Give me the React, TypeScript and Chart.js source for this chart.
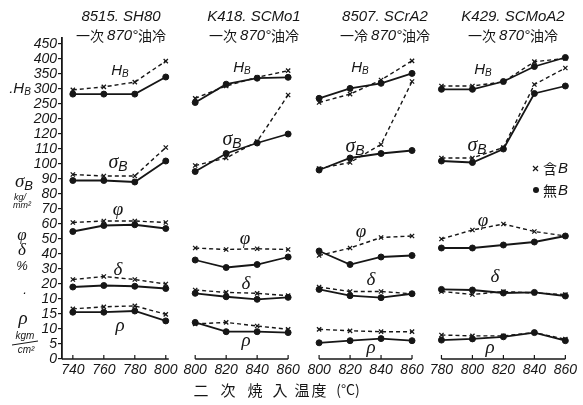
import { useEffect, useRef } from "react";
import { Chart, registerables } from "chart.js";
Chart.register(...registerables);

// ---- categories (quench temperatures, °C) ----
const temps1 = [740, 760, 780, 800];
const temps2 = [800, 820, 840, 860];
const temps3 = [800, 820, 840, 860];
const temps4 = [780, 800, 820, 840, 860];

// ---- panel titles ----
const steelNames = ["8515. SH80", "K418. SCMo1", "8507. SCrA2", "K429. SCMoA2"];
const firstQuench = ["一次", "一次", "一冷", "一次"];

// ---- y tick labels (composite axis, bottom to top) ----
const yTickLabels = ["0", "5", "10", "15", "10", "20", "30", "40", "50", "60", "70", "80", "90", "100", "110", "120", "200", "250", "300", "350", "400", "450"];

// ---- HB (Brinell hardness) ----
const hbWithB1 = [297, 307, 323, 393];
const hbNoB1 = [283, 283, 283, 340];
const hbWithB2 = [269, 310, 339, 361];
const hbNoB2 = [255, 316, 336, 339];
const hbWithB3 = [255, 283, 330, 394];
const hbNoB3 = [269, 302, 319, 352];
const hbWithB4 = [310, 310, 324, 391, 402];
const hbNoB4 = [299, 299, 325, 375, 405];

// ---- σB (kg/mm²) ----
const sbWithB1 = [93, 92, 92, 111];
const sbNoB1 = [89, 89, 88, 102];
const sbWithB2 = [99, 104, 115, 146];
const sbNoB2 = [95, 107, 114, 120];
const sbWithB3 = [97, 101, 113, 155];
const sbNoB3 = [96, 104, 107, 109];
const sbWithB4 = [104, 104, 111, 153, 164];
const sbNoB4 = [102, 101, 110, 147, 152];

// ---- φ (%) ----
const phiWithB1 = [61, 62, 62, 61];
const phiNoB1 = [55, 59, 59.5, 57];
const phiWithB2 = [44, 43, 43.5, 43];
const phiNoB2 = [36, 31, 33, 38];
const phiWithB3 = [39, 44, 51, 52];
const phiNoB3 = [42, 33, 38, 39];
const phiWithB4 = [50, 56, 60, 55, 52];
const phiNoB4 = [44, 44, 46, 48, 52];

// ---- δ (%) ----
const deltaWithB1 = [23, 25, 23, 20];
const deltaNoB1 = [18, 19, 18.5, 17];
const deltaWithB2 = [16, 14.4, 13.8, 12.2];
const deltaNoB2 = [13.8, 11.5, 9.8, 11.1];
const deltaWithB3 = [18, 15, 15, 13.5];
const deltaNoB3 = [16.4, 12.2, 10.9, 13.5];
const deltaWithB4 = [15, 13, 15, 14, 13];
const deltaNoB4 = [16.4, 16, 14, 14.4, 12];

// ---- ρ (kgm/cm²) ----
const rhoWithB1 = [16.7, 17.4, 17.7, 14.9];
const rhoNoB1 = [15.6, 15.6, 16, 12.7];
const rhoWithB2 = [11.7, 12.2, 11, 9.9];
const rhoNoB2 = [12.2, 9.1, 9.1, 8.8];
const rhoWithB3 = [9.9, 9.4, 9.1, 9.1];
const rhoNoB3 = [5.4, 6.1, 6.8, 6.1];
const rhoWithB4 = [8, 7.7, 7.7, 8.8, 6.6];
const rhoNoB4 = [6.3, 6.7, 7.4, 8.8, 6.1];

// composite axis converters (value -> axis index)
const hbIdx = (v: number) => 16 + (v - 200) / 50;
const pctIdx = (v: number) => 3 + v / 10;
const rhoIdx = (v: number) => v / 5;

const panels = [
  { temps: temps1, start: 740, offset: 0, series: [[hbWithB1, hbNoB1, hbIdx], [sbWithB1, sbNoB1, pctIdx], [phiWithB1, phiNoB1, pctIdx], [deltaWithB1, deltaNoB1, pctIdx], [rhoWithB1, rhoNoB1, rhoIdx]] },
  { temps: temps2, start: 800, offset: 79, series: [[hbWithB2, hbNoB2, hbIdx], [sbWithB2, sbNoB2, pctIdx], [phiWithB2, phiNoB2, pctIdx], [deltaWithB2, deltaNoB2, pctIdx], [rhoWithB2, rhoNoB2, rhoIdx]] },
  { temps: temps3, start: 800, offset: 159, series: [[hbWithB3, hbNoB3, hbIdx], [sbWithB3, sbNoB3, pctIdx], [phiWithB3, phiNoB3, pctIdx], [deltaWithB3, deltaNoB3, pctIdx], [rhoWithB3, rhoNoB3, rhoIdx]] },
  { temps: temps4, start: 780, offset: 238, series: [[hbWithB4, hbNoB4, hbIdx], [sbWithB4, sbNoB4, pctIdx], [phiWithB4, phiNoB4, pctIdx], [deltaWithB4, deltaNoB4, pctIdx], [rhoWithB4, rhoNoB4, rhoIdx]] },
];

const xTickValues: number[] = [];
const xTickLabels: string[] = [];
panels.forEach((p) => p.temps.forEach((t) => { xTickValues.push(p.offset + t - p.start); xTickLabels.push(String(t)); }));

const INK = "#161616";
const NUM = "'Liberation Sans', 'DejaVu Sans', sans-serif";
const CJK = "'Noto Sans CJK JP', 'Noto Sans CJK SC', sans-serif";
const GREEK = "'Liberation Serif', 'DejaVu Serif', serif";

function drawRuns(ctx: any, runs: [string, string][], cx: number, cy: number) {
  const widths = runs.map(([t, f]) => { ctx.font = f; return ctx.measureText(t).width; });
  let x = cx - widths.reduce((a, b) => a + b, 0) / 2;
  ctx.textAlign = "left";
  ctx.textBaseline = "middle";
  runs.forEach(([t, f], i) => { ctx.font = f; ctx.fillText(t, x, cy); x += widths[i]; });
}

function drawSub(ctx: any, main: string, sub: string, cx: number, cy: number, font: string, size: number, subFont?: string) {
  const mf = `italic ${size}px ${font}`;
  const sf = `italic ${Math.round(size * 0.68)}px ${subFont || NUM}`;
  ctx.font = mf; const w1 = ctx.measureText(main).width;
  ctx.font = sf; const w2 = ctx.measureText(sub).width;
  let x = cx - (w1 + w2) / 2;
  ctx.textAlign = "left"; ctx.textBaseline = "middle";
  ctx.font = mf; ctx.fillText(main, x, cy);
  ctx.font = sf; ctx.fillText(sub, x + w1, cy + size * 0.22);
}

const decorPlugin = {
  id: "decor",
  afterDraw(chart: any) {
    const ctx = chart.ctx;
    const xs = chart.scales.x;
    const area = chart.chartArea;
    ctx.save();
    ctx.fillStyle = INK;
    ctx.strokeStyle = INK;

    // x axes per panel
    const by = area.bottom;
    panels.forEach((p, pi) => {
      const xa = p.temps.map((t) => xs.getPixelForValue(p.offset + t - p.start));
      ctx.lineWidth = 1.4;
      ctx.beginPath();
      if (pi === 0) { ctx.moveTo(area.left, by); ctx.lineTo(xa[xa.length - 1] + 3, by); }
      else { ctx.moveTo(xa[0], by); ctx.lineTo(xa[xa.length - 1], by); }
      ctx.stroke();
      ctx.lineWidth = 1.2;
      xa.forEach((x) => { ctx.beginPath(); ctx.moveTo(x, by); ctx.lineTo(x, by - 4); ctx.stroke(); });
    });

    // titles
    const titleX = [121, 254, 385, 513];
    steelNames.forEach((n, i) => {
      drawRuns(ctx, [[n, `italic 15px ${NUM}`]], titleX[i], 17);
      drawRuns(ctx, [[firstQuench[i] + " ", `14px ${CJK}`], ["870°", `italic 15px ${NUM}`], ["油冷", `14px ${CJK}`]], titleX[i], 36);
    });

    // left axis labels
    drawSub(ctx, ".H", "B", 20, 89, NUM, 15);
    drawSub(ctx, "σ", "B", 24, 182, GREEK, 19);
    ctx.font = `italic 9px ${NUM}`; ctx.textAlign = "center"; ctx.textBaseline = "middle";
    ctx.fillText("kg/", 20, 197);
    ctx.fillText("mm²", 22, 205);
    ctx.font = `italic 17px ${GREEK}`;
    ctx.fillText("φ", 22, 236);
    ctx.fillText("δ", 22, 251);
    ctx.font = `italic 13px ${NUM}`;
    ctx.fillText("%", 22, 266);
    ctx.fillText(".", 25, 290);
    ctx.font = `italic 19px ${GREEK}`;
    ctx.fillText("ρ", 23, 319);
    ctx.font = `italic 10px ${NUM}`;
    ctx.fillText("kgm", 25, 336);
    ctx.lineWidth = 1;
    ctx.beginPath(); ctx.moveTo(12, 345); ctx.lineTo(38, 341); ctx.stroke();
    ctx.fillText("cm²", 26, 350);

    // in-panel labels
    const hbPos = [[120, 71], [242, 68], [360, 68], [483, 70]];
    const sbPos = [[118, 163], [232, 140], [355, 147], [477, 146]];
    const phiPos = [[118, 210], [245, 239], [361, 232], [483, 221]];
    const deltaPos = [[118, 270], [246, 284], [371, 280], [495, 277]];
    const rhoPos = [[120, 326], [246, 341], [371, 348], [490, 348]];
    for (let i = 0; i < 4; i++) {
      drawSub(ctx, "H", "B", hbPos[i][0], hbPos[i][1], NUM, 15);
      drawSub(ctx, "σ", "B", sbPos[i][0], sbPos[i][1], GREEK, 20);
      ctx.textAlign = "center"; ctx.textBaseline = "middle";
      ctx.font = `italic 19px ${GREEK}`;
      ctx.fillText("φ", phiPos[i][0], phiPos[i][1]);
      ctx.fillText("δ", deltaPos[i][0], deltaPos[i][1]);
      ctx.fillText("ρ", rhoPos[i][0], rhoPos[i][1]);
    }

    // legend
    ctx.lineWidth = 1.2;
    ctx.beginPath();
    ctx.moveTo(533, 166); ctx.lineTo(538, 171); ctx.moveTo(538, 166); ctx.lineTo(533, 171);
    ctx.stroke();
    ctx.beginPath(); ctx.arc(536, 190, 3, 0, Math.PI * 2); ctx.fill();
    ctx.textAlign = "left"; ctx.textBaseline = "middle";
    ctx.font = `14px ${CJK}`; ctx.fillText("含", 543, 169);
    ctx.font = `italic 15px ${NUM}`; ctx.fillText("B", 558, 169);
    ctx.font = `14px ${CJK}`; ctx.fillText("無", 543, 191);
    ctx.font = `italic 15px ${NUM}`; ctx.fillText("B", 558, 191);

    // x axis title
    const chars = ["二", "次", "焼", "入", "温", "度"];
    const cxs = [201, 228, 255, 280, 302, 319];
    ctx.textAlign = "center";
    ctx.font = `15px ${CJK}`;
    chars.forEach((c, i) => ctx.fillText(c, cxs[i], 390));
    ctx.font = `14px ${CJK}`;
    ctx.fillText("(°C)", 348, 390);
    ctx.restore();
  },
};

export default function App() {
  const ref = useRef<HTMLCanvasElement>(null);
  useEffect(() => {
    if (!ref.current) return;
    const datasets: any[] = [];
    panels.forEach((p) => {
      p.series.forEach(([withB, noB, conv]: any) => {
        [[withB, true], [noB, false]].forEach(([vals, isWith]: any) => {
          datasets.push({
            data: p.temps.map((t, i) => ({ x: p.offset + t - p.start, y: conv(vals[i]) })),
            borderColor: INK,
            backgroundColor: INK,
            borderWidth: isWith ? 1.4 : 1.8,
            borderDash: isWith ? [4, 3] : [],
            pointStyle: isWith ? "crossRot" : "circle",
            pointRadius: 3,
            pointBorderWidth: isWith ? 1.3 : 1,
            fill: false,
            tension: 0,
          });
        });
      });
    });
    const chart = new Chart(ref.current, {
      type: "line",
      data: { datasets },
      options: {
        animation: false,
        responsive: false,
        events: [],
        layout: { padding: { top: 38, right: 13, left: 0, bottom: 0 } },
        plugins: { legend: { display: false }, tooltip: { enabled: false } },
        scales: {
          x: {
            type: "linear",
            min: -7,
            max: 321,
            afterBuildTicks: (s: any) => { s.ticks = xTickValues.map((v) => ({ value: v })); },
            afterFit: (s: any) => { s.height = 46; s.paddingLeft = 0; s.paddingRight = 0; },
            ticks: {
              autoSkip: false,
              maxRotation: 0,
              padding: 3,
              color: INK,
              font: { size: 14, style: "italic", family: NUM },
              callback: (_v: any, i: number) => xTickLabels[i],
            },
            grid: { display: false, drawTicks: false },
            border: { display: false },
          },
          y: {
            type: "linear",
            min: 0,
            max: 21.4,
            afterBuildTicks: (s: any) => { s.ticks = yTickLabels.map((_l, i) => ({ value: i })); },
            afterFit: (s: any) => { s.width = 62; s.paddingTop = 0; s.paddingBottom = 0; },
            ticks: {
              autoSkip: false,
              padding: 1,
              color: INK,
              font: { size: 14, style: "italic", family: NUM },
              callback: (_v: any, i: number) => yTickLabels[i],
            },
            grid: { drawOnChartArea: false, drawTicks: true, tickLength: 4, color: INK, lineWidth: 1.2 },
            border: { display: true, color: INK, width: 1.8 },
          },
        },
      },
      plugins: [decorPlugin],
    });
    return () => chart.destroy();
  }, []);
  return (
    <div style={{ position: "absolute", left: 0, top: 0, width: 583, height: 405, background: "#fff" }}>
      <canvas ref={ref} width={583} height={405} style={{ display: "block" }} />
    </div>
  );
}
